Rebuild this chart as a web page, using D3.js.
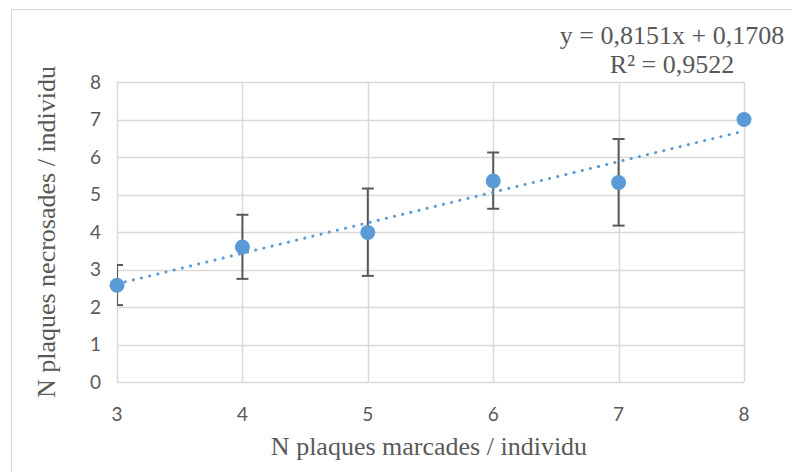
<!DOCTYPE html>
<html>
<head>
<meta charset="utf-8">
<script src="https://cdn.jsdelivr.net/npm/d3@7"></script>
<style>
  body { margin: 0; background: #fff; }
  svg { display: block; }
  .tick-label { font-family: Lato, "Open Sans", sans-serif; font-size: 19px; fill: #595959; }
  .axis-title { font-family: "Liberation Serif", "Times New Roman", serif; font-size: 26px; fill: #595959; }
</style>
</head>
<body>
<svg id="svg" width="792" height="472"></svg>
<script>
// Data
const xValues = [3, 4, 5, 6, 7, 8]
const yValues = [2.58, 3.6, 3.99, 5.36, 5.32, 7.0]
const errLow = [2.05, 2.75, 2.83, 4.62, 4.17, 7.0]
const errHigh = [3.12, 4.46, 5.16, 6.12, 6.48, 7.0]
const xTicks = [3, 4, 5, 6, 7, 8]
const yTicks = [0, 1, 2, 3, 4, 5, 6, 7, 8]
const slope = 0.8151
const intercept = 0.1708
const equationLines = ['y = 0,8151x + 0,1708', 'R² = 0,9522']

const svg = d3.select('#svg')
const margin = { top: 82, right: 48, bottom: 90, left: 117 }
const width = 792
const height = 472

// outer chart frame
svg.append('rect')
    .attr('x', 11.5).attr('y', 9.5)
    .attr('width', 900).attr('height', 600)
    .attr('fill', 'none').attr('stroke', '#d9d9d9')

const xScale = d3.scaleLinear().domain([3, 8]).range([margin.left, width - margin.right])
const yScale = d3.scaleLinear().domain([0, 8]).range([height - margin.bottom, margin.top])

svg.append('clipPath').attr('id', 'plot-clip')
    .append('rect')
    .attr('x', xScale(3)).attr('y', yScale(8) - 20)
    .attr('width', xScale(8) - xScale(3) + 20).attr('height', yScale(0) - yScale(8) + 20)

// grid
const grid = svg.append('g')
grid.selectAll('.hgrid')
    .data(yTicks)
    .join('line')
    .attr('x1', xScale(3)).attr('x2', xScale(8))
    .attr('y1', d => Math.round(yScale(d)) + 0.5).attr('y2', d => Math.round(yScale(d)) + 0.5)
    .attr('stroke', '#d9d9d9').attr('stroke-width', 1.5)
grid.selectAll('.vgrid')
    .data(xTicks)
    .join('line')
    .attr('x1', d => Math.round(xScale(d)) + 0.5).attr('x2', d => Math.round(xScale(d)) + 0.5)
    .attr('y1', yScale(8)).attr('y2', yScale(0))
    .attr('stroke', '#d9d9d9').attr('stroke-width', 1.5)

// tick labels
svg.append('g').selectAll('text')
    .data(yTicks)
    .join('text')
    .attr('class', 'tick-label')
    .attr('x', 101)
    .attr('y', d => yScale(d))
    .attr('dy', '0.36em')
    .attr('text-anchor', 'end')
    .text(d => d)

svg.append('g').selectAll('text')
    .data(xTicks)
    .join('text')
    .attr('class', 'tick-label')
    .attr('x', d => xScale(d))
    .attr('y', 421)
    .attr('text-anchor', 'middle')
    .text(d => d)

// axis titles
svg.append('text')
    .attr('class', 'axis-title')
    .attr('x', 429).attr('y', 455)
    .attr('text-anchor', 'middle')
    .text('N plaques marcades / individu')

svg.append('text')
    .attr('class', 'axis-title')
    .attr('transform', `translate(55,${yScale(4) - 0}) rotate(-90)`)
    .attr('text-anchor', 'middle')
    .text('N plaques necrosades / individu')

const points = xValues.map((x, i) => ({ x, y: yValues[i], lo: errLow[i], hi: errHigh[i] }))

// error bars
const errG = svg.append('g').attr('clip-path', 'url(#plot-clip)')
const bars = points.filter(d => d.hi > d.lo)
errG.selectAll('.err')
    .data(bars)
    .join('line')
    .attr('x1', d => xScale(d.x)).attr('x2', d => xScale(d.x))
    .attr('y1', d => yScale(d.lo)).attr('y2', d => yScale(d.hi))
    .attr('stroke', '#595959').attr('stroke-width', 2)
errG.selectAll('.cap-hi')
    .data(bars)
    .join('line')
    .attr('x1', d => xScale(d.x) - 6).attr('x2', d => xScale(d.x) + 6)
    .attr('y1', d => yScale(d.hi)).attr('y2', d => yScale(d.hi))
    .attr('stroke', '#595959').attr('stroke-width', 2)
errG.selectAll('.cap-lo')
    .data(bars)
    .join('line')
    .attr('x1', d => xScale(d.x) - 6).attr('x2', d => xScale(d.x) + 6)
    .attr('y1', d => yScale(d.lo)).attr('y2', d => yScale(d.lo))
    .attr('stroke', '#595959').attr('stroke-width', 2)

// trendline
svg.append('line')
    .attr('x1', xScale(3)).attr('x2', xScale(8))
    .attr('y1', yScale(slope * 3 + intercept)).attr('y2', yScale(slope * 8 + intercept))
    .attr('stroke', '#5b9bd5').attr('stroke-width', 3)
    .attr('stroke-linecap', 'round')
    .attr('stroke-dasharray', '0.1 8.3')

// markers
svg.append('g').selectAll('circle')
    .data(points)
    .join('circle')
    .attr('cx', d => xScale(d.x))
    .attr('cy', d => yScale(d.y))
    .attr('r', 7.5)
    .attr('fill', '#5b9bd5')

// equation
svg.append('text')
    .attr('class', 'axis-title')
    .attr('fill', '#404040')
    .attr('text-anchor', 'middle')
    .selectAll('tspan')
    .data(equationLines)
    .join('tspan')
    .attr('x', 672)
    .attr('y', (d, i) => 44 + i * 29)
    .text(d => d)
</script>
</body>
</html>
